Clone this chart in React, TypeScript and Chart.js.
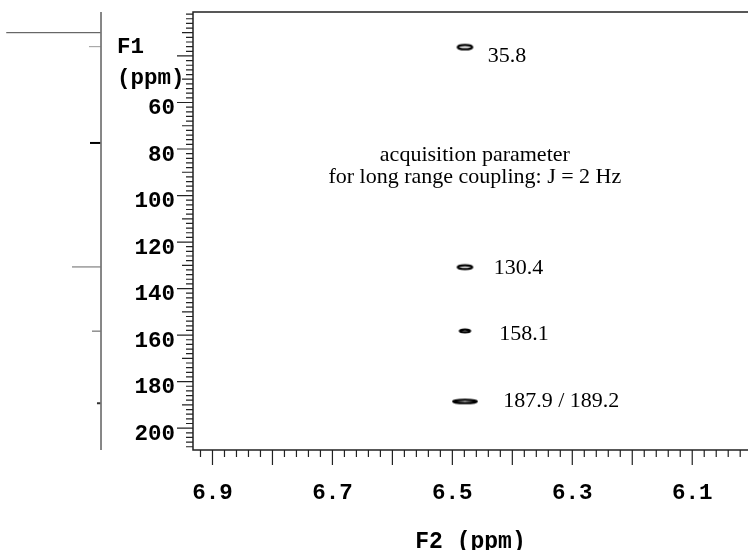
import React, { useEffect, useRef } from "react";
import { Chart, registerables } from "chart.js";

Chart.register(...registerables);

// ---- axis ranges (ppm, both axes reversed as in NMR) ----
const f2Min = 6.007;
const f2Max = 6.9325;
const f1Min = 21.1;
const f1Max = 209.4;
const f2Step = 0.02;
const f1Step = 2;

// ---- HMBC cross peaks ----
const peakF2 = [6.479, 6.479, 6.479, 6.479];
const peakF1 = [36.2, 130.8, 158.2, 188.5];
const peakWidthF2 = [0.0278, 0.0278, 0.0207, 0.0433];
const peakWidthF1 = [2.9, 2.6, 2.15, 2.45];

// ---- peak labels (anchor: left / baseline, in ppm) ----
const peakLabels = ["35.8", "130.4", "158.1", "187.9 / 189.2"];
const peakLabelF2 = [6.4408, 6.4308, 6.422, 6.4153];
const peakLabelF1 = [42.5, 133.9, 161.9, 190.9];

// ---- annotation ----
const noteLines = ["acquisition parameter", "for long range coupling: J = 2 Hz"];
const noteF2 = 6.4625;
const noteF1 = [85.2, 94.7];

// ---- F1 projection (13C spectrum) ----
const projF1 = [30.0, 36.0, 77.4, 130.7, 158.3, 189.3];
const projIntensity = [93.8, 11.9, 10.9, 28.7, 8.9, 4.0];
const projColors = ["#444", "#999", "#000", "#666", "#555", "#333"];
const projWidths = [1, 1, 2, 1, 1, 2];

const monoFamily = "'Liberation Mono', 'DejaVu Sans Mono', monospace";
const serifFamily = "'Liberation Serif', 'DejaVu Serif', serif";

function ellipseCanvas(w: number, h: number): HTMLCanvasElement {
  const lw = 2.3;
  const c = document.createElement("canvas");
  c.width = Math.ceil(w) + 2;
  c.height = Math.ceil(h) + 2;
  const g = c.getContext("2d")!;
  g.lineWidth = lw;
  g.strokeStyle = "#000";
  g.beginPath();
  g.ellipse(
    c.width / 2,
    c.height / 2,
    Math.max(w / 2 - lw / 2, 0.6),
    Math.max(h / 2 - lw / 2, 0.6),
    0,
    0,
    Math.PI * 2
  );
  g.stroke();
  return c;
}

function zeroPadding(s: any) {
  s.paddingTop = 0;
  s.paddingBottom = 0;
  s.paddingLeft = 0;
  s.paddingRight = 0;
}

export default function App() {
  const mainRef = useRef<HTMLCanvasElement>(null);
  const projRef = useRef<HTMLCanvasElement>(null);

  useEffect(() => {
    const tickFont = { family: monoFamily, size: 22.5, weight: "bold" as const, lineHeight: 1.2 };

    const nmrPlugin = {
      id: "nmrAxes",
      afterDraw(chart: any) {
        const { ctx, chartArea: a, scales } = chart;
        const xs = scales.x;
        const ys = scales.y;
        ctx.save();
        // frame (left, top, bottom)
        ctx.strokeStyle = "#222";
        ctx.lineWidth = 1.5;
        ctx.beginPath();
        ctx.moveTo(a.right, a.top);
        ctx.lineTo(a.left, a.top);
        ctx.lineTo(a.left, a.bottom);
        ctx.lineTo(a.right, a.bottom);
        ctx.stroke();
        // tick marks
        ctx.lineWidth = 1.2;
        ctx.beginPath();
        ys.ticks.forEach((t: any) => {
          const v = Math.round(t.value);
          const py = ys.getPixelForValue(t.value);
          const len = v % 20 === 0 ? 16 : v % 10 === 0 ? 11 : 7;
          ctx.moveTo(a.left - len, py);
          ctx.lineTo(a.left, py);
        });
        xs.ticks.forEach((t: any) => {
          const k = Math.round(t.value * 100);
          const px = xs.getPixelForValue(t.value);
          const len = k % 10 === 0 ? 15 : 7;
          ctx.moveTo(px, a.bottom);
          ctx.lineTo(px, a.bottom + len);
        });
        ctx.stroke();
        // F1 axis title
        ctx.fillStyle = "#000";
        ctx.font = `bold 22.5px ${monoFamily}`;
        ctx.textAlign = "left";
        ctx.textBaseline = "alphabetic";
        ctx.fillText("F1", a.left - 76, a.top + 41);
        ctx.fillText("(ppm)", a.left - 76, a.top + 72);
        // peak labels
        ctx.font = `22px ${serifFamily}`;
        peakLabels.forEach((s, i) => {
          ctx.fillText(s, xs.getPixelForValue(peakLabelF2[i]), ys.getPixelForValue(peakLabelF1[i]));
        });
        ctx.textAlign = "center";
        noteLines.forEach((s, i) => {
          ctx.fillText(s, xs.getPixelForValue(noteF2), ys.getPixelForValue(noteF1[i]));
        });
        ctx.restore();
      },
    };

    const main = new Chart(mainRef.current!, {
      type: "scatter",
      data: {
        datasets: [
          {
            data: peakF2.map((x, i) => ({ x, y: peakF1[i] })),
            pointRadius: 5,
            clip: false as any,
            pointStyle: ((c: any) => {
              const i = c.dataIndex;
              const xs = c.chart.scales.x;
              const ys = c.chart.scales.y;
              if (i === undefined || i === null || !xs || !ys) return "circle";
              const w = Math.abs(
                xs.getPixelForValue(peakF2[i] + peakWidthF2[i] / 2) -
                  xs.getPixelForValue(peakF2[i] - peakWidthF2[i] / 2)
              );
              const h = Math.abs(
                ys.getPixelForValue(peakF1[i] + peakWidthF1[i] / 2) -
                  ys.getPixelForValue(peakF1[i] - peakWidthF1[i] / 2)
              );
              return ellipseCanvas(w, h);
            }) as any,
          },
        ],
      },
      options: {
        responsive: false,
        animation: false,
        events: [],
        layout: { autoPadding: false, padding: { top: 12, left: 0, right: 0, bottom: 0 } },
        plugins: { legend: { display: false }, tooltip: { enabled: false } },
        scales: {
          x: {
            type: "linear",
            position: "bottom",
            reverse: true,
            min: f2Min,
            max: f2Max,
            grid: { display: false, drawTicks: false },
            border: { display: false },
            ticks: {
              stepSize: f2Step,
              autoSkip: false,
              maxRotation: 0,
              minRotation: 0,
              includeBounds: false,
              padding: 29.5,
              color: "#000",
              font: tickFont,
              callback: (v: any) => {
                const k = Math.round(Number(v) * 100);
                return k % 20 === 10 ? (k / 100).toFixed(1) : "";
              },
            },
            title: {
              display: true,
              text: "F2 (ppm)",
              color: "#000",
              font: { family: monoFamily, size: 23, weight: "bold", lineHeight: 0.5 },
              padding: { top: 0, bottom: 1.75 },
            },
            afterFit: (s: any) => {
              s.height = 100;
              zeroPadding(s);
            },
          },
          y: {
            type: "linear",
            position: "left",
            reverse: true,
            min: f1Min,
            max: f1Max,
            grid: { display: false, drawTicks: false },
            border: { display: false },
            ticks: {
              stepSize: f1Step,
              autoSkip: false,
              includeBounds: false,
              padding: 18,
              labelOffset: 6,
              color: "#000",
              font: tickFont,
              callback: (v: any) => {
                const n = Math.round(Number(v));
                return n % 20 === 0 && n >= 60 ? String(n) : "";
              },
            },
            afterFit: (s: any) => {
              s.width = 193;
              zeroPadding(s);
            },
          },
        },
      } as any,
      plugins: [nmrPlugin],
    });

    const proj = new Chart(projRef.current!, {
      type: "scatter",
      data: {
        datasets: [
          {
            data: [
              { x: 0, y: f1Min },
              { x: 0, y: f1Max },
            ],
            showLine: true,
            borderColor: "#777",
            borderWidth: 1,
            pointRadius: 0,
            clip: false as any,
          },
          ...projF1.map((p, i) => ({
            data: [
              { x: 0, y: p },
              { x: projIntensity[i], y: p },
            ],
            showLine: true,
            borderColor: projColors[i],
            borderWidth: projWidths[i],
            pointRadius: 0,
            clip: false as any,
          })),
        ],
      },
      options: {
        responsive: false,
        animation: false,
        events: [],
        layout: { autoPadding: false, padding: { top: 12, bottom: 100, left: 0, right: 92 } },
        plugins: { legend: { display: false }, tooltip: { enabled: false } },
        scales: {
          x: { type: "linear", display: false, min: 0, max: 100, reverse: true },
          y: { type: "linear", display: false, min: f1Min, max: f1Max, reverse: true },
        },
      } as any,
    });

    return () => {
      main.destroy();
      proj.destroy();
    };
  }, []);

  return (
    <div style={{ position: "absolute", left: 0, top: 0, width: 748, height: 550, background: "#fff" }}>
      <canvas
        ref={mainRef}
        width={748}
        height={550}
        style={{ position: "absolute", left: 0, top: 0, width: 748, height: 550 }}
      />
      <canvas
        ref={projRef}
        width={193}
        height={550}
        style={{ position: "absolute", left: 0, top: 0, width: 193, height: 550 }}
      />
    </div>
  );
}
